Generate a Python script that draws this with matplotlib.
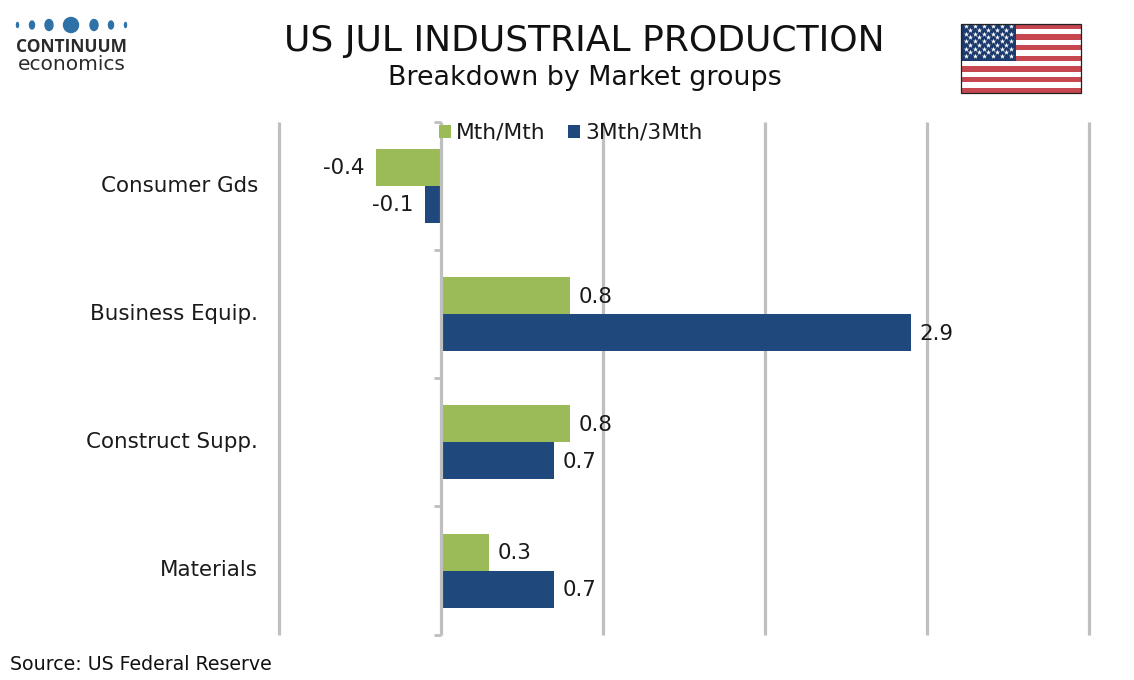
import numpy as np
import matplotlib
matplotlib.use("Agg")
import matplotlib.pyplot as plt
from matplotlib.patches import Ellipse, Rectangle
from matplotlib.transforms import ScaledTranslation

categories = ["Consumer Gds", "Business Equip.", "Construct Supp.", "Materials"]
mth_mth = [-0.4, 0.8, 0.8, 0.3]
three_mth = [-0.1, 2.9, 0.7, 0.7]
labels_mth = ["-0.4", "0.8", "0.8", "0.3"]
labels_3mth = ["-0.1", "2.9", "0.7", "0.7"]

W, H = 1134, 680
GREEN = "#9BBB59"
BLUE = "#1F497D"
GREY = "#BFBFBF"

plt.rcParams["font.family"] = ["DejaVu Sans"]
fig = plt.figure(figsize=(W / 100, H / 100), dpi=100)

# main chart
ax = fig.add_axes([278.8 / W, 1 - 634.7 / H, (1088.8 - 278.8) / W, (634 - 121) / H])
y = np.arange(len(categories))
bar_h = 0.288
ax.barh(y - bar_h / 2, mth_mth, bar_h, color=GREEN, label="Mth/Mth", zorder=3)
ax.barh(y + bar_h / 2, three_mth, bar_h, color=BLUE, label="3Mth/3Mth", zorder=3)
ax.set_xlim(-1, 4)
ax.set_ylim(3.5, -0.5)

for x in [-1, 1, 2, 3, 4]:
    ax.axvline(x, color=GREY, lw=2.3, zorder=1, clip_on=False, solid_capstyle="butt")
# axis line sits over the bars
ax.axvline(0, color=GREY, lw=2.3, zorder=4, clip_on=False, solid_capstyle="butt")
for b in np.arange(-0.5, 4):
    ax.plot([-0.04, 0], [b, b], color=GREY, lw=2.0, zorder=2, clip_on=False, solid_capstyle="butt")

for s in ax.spines.values():
    s.set_visible(False)
ax.set_xticks([])
ax.set_yticks(y)
ax.set_yticklabels(categories, fontsize=15.4, color="#1a1a1a")
ax.tick_params(axis="y", length=0, pad=15)
# nudge the category names up a little
shift = ScaledTranslation(0, 1.5 / 72, fig.dpi_scale_trans)
for lab in ax.get_yticklabels():
    lab.set_transform(lab.get_transform() + shift)

for i in range(len(categories)):
    for val, txt, off in [(mth_mth[i], labels_mth[i], -bar_h / 2), (three_mth[i], labels_3mth[i], bar_h / 2)]:
        if val < 0:
            ax.annotate(txt, (val, i + off), xytext=(-8, -0.8), textcoords="offset points",
                        ha="right", va="center", fontsize=15.4, color="#1a1a1a")
        else:
            ax.annotate(txt, (val, i + off), xytext=(6, -0.8), textcoords="offset points",
                        ha="left", va="center", fontsize=15.4, color="#1a1a1a")

fig.legend(loc="center", bbox_to_anchor=(570.5 / W, 1 - 133 / H), ncol=2, frameon=False,
           fontsize=15.7, handlelength=0.55, handleheight=0.55, handletextpad=0.25,
           columnspacing=1.0, labelcolor="#1a1a1a")

# titles and source
fig.text(584.5 / W, 1 - 41 / H, "US JUL INDUSTRIAL PRODUCTION", ha="center", va="center",
         fontsize=26, color="#111111")
fig.text(585 / W, 1 - 78 / H, "Breakdown by Market groups", ha="center", va="center",
         fontsize=19.4, color="#111111")
fig.text(10 / W, 1 - 664 / H, "Source: US Federal Reserve", ha="left", va="center",
         fontsize=13.7, color="#111111")

# overlay in pixel coordinates for logo and flag
over = fig.add_axes([0, 0, 1, 1], facecolor="none")
over.set_xlim(0, W)
over.set_ylim(H, 0)
over.axis("off")

# logo
dot_x = [17.5, 32, 49, 71, 94, 111, 125.5]
dot_w = [2, 5, 8, 15, 8, 5, 2]
dot_h = [5, 8, 11, 15, 11, 8, 5]
for dx, dw, dh in zip(dot_x, dot_w, dot_h):
    over.add_patch(Ellipse((dx, 25), dw, dh, color="#2F72A8"))
over.text(71.5, 47, "CONTINUUM", ha="center", va="center", fontsize=12.5, color="#2b2b2b",
          family="Open Sans", weight="bold")
over.text(71.5, 65, "economics", ha="center", va="center", fontsize=14.5, color="#2b2b2b",
          family="DejaVu Sans", weight="normal")

# flag
fx0, fx1, fy0, fy1 = 961, 1080.5, 23.5, 93
stripe_h = (fy1 - fy0) / 13
over.add_patch(Rectangle((fx0, fy0), fx1 - fx0, fy1 - fy0, facecolor="white", edgecolor="none", zorder=5))
for k in range(0, 13, 2):
    over.add_patch(Rectangle((fx0, fy0 + k * stripe_h), fx1 - fx0, stripe_h, facecolor="#C6474F",
                             edgecolor="none", zorder=6))
canton_w, canton_h = 54.5, 7 * stripe_h
over.add_patch(Rectangle((fx0, fy0), canton_w, canton_h, facecolor="#1C3A6E", edgecolor="none", zorder=7))
over.add_patch(Rectangle((fx0, fy0), fx1 - fx0, fy1 - fy0, facecolor="none", edgecolor="#222222", lw=0.9, zorder=9))
sx, sy = [], []
for r in range(9):
    n = 6 if r % 2 == 0 else 5
    for c in range(n):
        sx.append(fx0 + canton_w * (c + (0.5 if r % 2 == 0 else 1.0)) / 6)
        sy.append(fy0 + canton_h * (r + 0.7) / 10)
over.scatter(sx, sy, marker="*", s=16, color="white", linewidths=0, zorder=8)

fig.savefig("out.png", dpi=100)
